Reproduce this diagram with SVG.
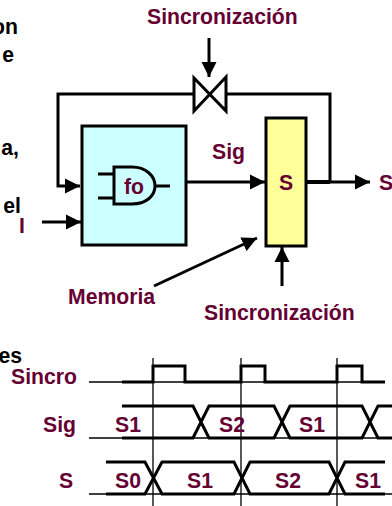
<svg xmlns="http://www.w3.org/2000/svg" width="392" height="506" viewBox="0 0 392 506">
<style>
text{font-family:"Liberation Sans",Arial,sans-serif;font-weight:bold;font-size:21.2px;fill:#660033}
.k{fill:#000;text-anchor:end}
.m{text-anchor:middle}
.w{fill:none;stroke:#000;stroke-width:3}
.a{fill:none;stroke:#000;stroke-width:3;marker-end:url(#h)}
.t{fill:none;stroke:#000;stroke-width:1.3}
.b{fill:none;stroke:#000;stroke-width:3}
</style>
<defs>
<marker id="h" markerUnits="userSpaceOnUse" markerWidth="16" markerHeight="16" refX="15" refY="8" orient="auto"><path d="M0,0.5 15,8 0,15.5Z" fill="#000"/></marker>
</defs>
<g id="texto">
<text class="k" x="18" y="34">on</text>
<text class="k" x="14" y="62">e</text>
<text class="k" x="19" y="155">a,</text>
<text class="k" x="21" y="213">el</text>
<text class="k" x="22" y="363">es</text>
</g>
<g id="logica">
<rect x="82" y="126" width="104" height="119" fill="#ccffff" stroke="#000" stroke-width="3"/>
<path class="w" d="M114,167H132C146,167 155,176 155,186C155,196 146,204 132,204H114ZM98,174H114M98,198H114M155,186H170"/>
<text class="m" x="134" y="194">fo</text>
</g>
<g id="registro">
<rect x="266" y="118" width="40" height="128" fill="#ffff99" stroke="#000" stroke-width="3"/>
<text class="m" x="286" y="190">S</text>
</g>
<g id="puerta">
<path d="M194,78 226,111V77L194,111Z" fill="#fff" stroke="#000" stroke-width="3"/>
</g>
<g id="conectores">
<path class="a" d="M209,38V77"/>
<path class="a" d="M193,94H58V186H80"/>
<path class="w" d="M226,94H330V182"/>
<path class="a" d="M186,182H265"/>
<path class="a" d="M306,182H370"/>
<path d="M306,182H330" stroke="#000" stroke-width="4"/>
<path class="a" d="M42,222H81"/>
<path class="a" d="M154,286 257,238"/>
<path class="a" d="M282,286V247"/>
</g>
<g id="etiquetas">
<text x="147" y="24">Sincronización</text>
<text x="212" y="159">Sig</text>
<text x="379" y="190">S</text>
<text x="19" y="233">I</text>
<text x="68" y="304">Memoria</text>
<text x="204" y="320">Sincronización</text>
</g>
<g id="cronograma">
<path class="t" d="M89,382H385M89,438H392M89,494H392M153,358V506M241,358V506M337,358V506"/>
<path class="b" d="M122,382H153V366H185V382H241V366H265V382H337V366H362V382H385"/>
<path class="b" d="M122,406H193L209,438H274L290,406H362L378,438H392M122,438H193L209,406H274L290,438H362L378,406H392"/>
<path class="b" d="M106,462H145L162,494H234L250,462H329L345,494H385M106,494H145L162,462H234L250,494H329L345,462H385"/>
<text x="11" y="384">Sincro</text>
<text x="43" y="432">Sig</text>
<text x="59" y="488">S</text>
<text x="115" y="432">S1</text>
<text x="219" y="432">S2</text>
<text x="299" y="432">S1</text>
<text x="115" y="488">S0</text>
<text x="187" y="488">S1</text>
<text x="275" y="488">S2</text>
<text x="355" y="488">S1</text>
</g>
</svg>
